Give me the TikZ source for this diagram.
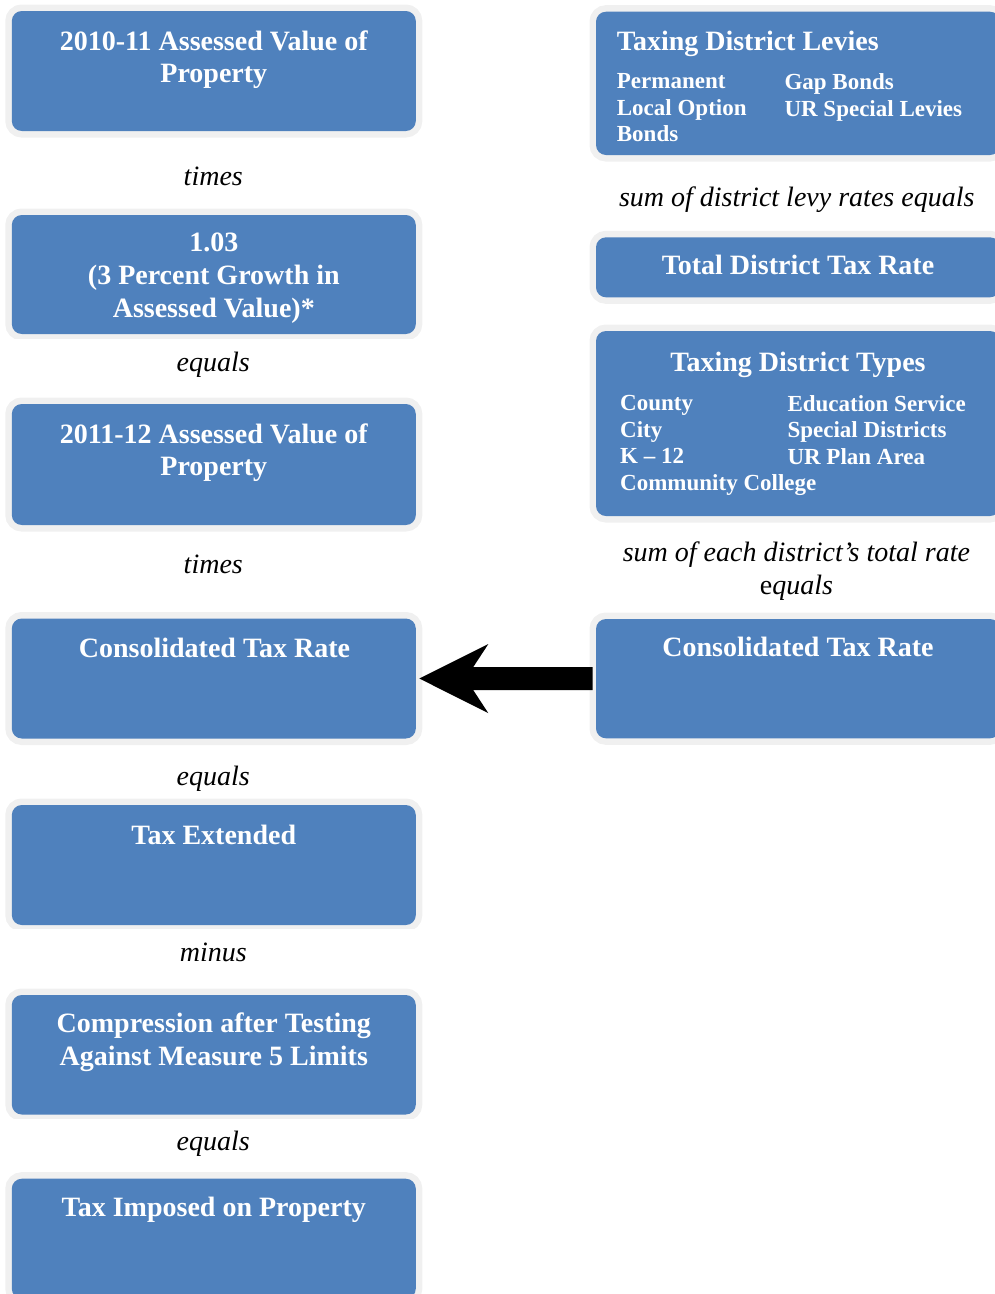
\documentclass[tikz,border=0pt]{standalone}
\usepackage{fontspec}
\setmainfont{Liberation Serif}
\usetikzlibrary{arrows.meta,calc}

\definecolor{panelblue}{RGB}{79,129,189}
\definecolor{rimgray}{RGB}{240,240,240}

\tikzset{
  panel/.style={rectangle, rounded corners=10pt, fill=panelblue,
    preaction={draw=rimgray, line width=13pt},
    inner sep=0pt, outer sep=0pt, minimum width=404pt},
  head/.style={text=white, font=\bfseries\fontsize{28}{32.8}\selectfont,
    align=center, inner sep=0pt, anchor=base},
  item/.style={text=white, font=\bfseries\fontsize{23}{26.5}\selectfont,
    align=left, inner sep=0pt, anchor=base west},
  op/.style={font=\itshape\fontsize{28}{32.3}\selectfont, align=center,
    inner sep=0pt, anchor=base},
  flow/.style={line width=23pt, shorten >=3.5pt, shorten <=3.3pt,
    -{Stealth[length=69pt, width=69pt, inset=22.6pt, line width=0pt]}}
}

\begin{document}
\begin{tikzpicture}[x=1pt, y=-1pt]
\useasboundingbox (0,0) rectangle (995,1294);
\clip (0,0) rectangle (995,1294);

% ---------- left column ----------
\node[panel, minimum height=120pt] (av10) at (213.8,71) {};
\begin{scope}
  \clip (0,0) rectangle (995,338);
  \node[panel, minimum height=119pt] (growth) at (213.8,274.5) {};
\end{scope}
\node[panel, minimum height=121pt] (av11) at (213.8,464.5) {};
\node[panel, minimum height=120pt] (ctrL) at (213.8,678.5) {};
\begin{scope}
  \clip (0,0) rectangle (995,928);
  \node[panel, minimum height=120pt] (ext) at (213.8,865) {};
\end{scope}
\begin{scope}
  \clip (0,0) rectangle (995,1118);
  \node[panel, minimum height=119.5pt] (comp) at (213.8,1054.75) {};
\end{scope}
\node[panel, minimum height=120pt] (imp) at (213.8,1238.7) {};

% multi-line texts are placed by the baseline of their last line
\node[head] (av10t) at (213.8,82.8) {2010-11 Assessed Value of\\Property};
\node[op] (op1) at (213.3,185) {times};
\node[head] (growtht) at (213.8,317) {1.03\\(3 Percent Growth in\\Assessed Value)*};
\node[op] (op2) at (213.3,371.7) {equals};
\node[head] (av11t) at (213.8,475.8) {2011-12 Assessed Value of\\Property};
\node[op] (op3) at (213.3,573.3) {times};
\node[head] (ctrLt) at (214.5,657.7) {Consolidated Tax Rate};
\node[op] (op4) at (213.3,785) {equals};
\node[head] (extt) at (213.8,844) {Tax Extended};
\node[op] (op5) at (213.3,961.7) {minus};
\node[head] (compt) at (213.8,1065.5) {Compression after Testing\\Against Measure 5 Limits};
\node[op] (op6) at (213.3,1150.7) {equals};
\node[head] (impt) at (213.8,1216.7) {Tax Imposed on Property};

% ---------- right column ----------
\node[panel, minimum height=143.3pt] (levy) at (798,83.35) {};
\node[panel, minimum height=60pt] (total) at (798,267.3) {};
\node[panel, minimum height=185pt] (types) at (798,423.5) {};
\node[panel, minimum height=119.3pt] (ctrR) at (798,678.65) {};

\node[head, anchor=base west] (levyt) at (616.7,50) {Taxing District Levies};
\node[item] (levya) at (616.7,141.8) {Permanent\\Local Option\\Bonds};
\node[item] (levyb) at (784.3,116) {Gap Bonds\\UR Special Levies};
\node[op] (op7) at (796.7,206.7) {sum of district levy rates equals};
\node[head] (totalt) at (798,274) {Total District Tax Rate};
\node[head] (typest) at (798,371.7) {Taxing District Types};
\node[item] (typesa) at (620,490) {County\\City\\K – 12\\Community College};
\node[item] (typesb) at (787.3,464) {Education Service\\Special Districts\\UR Plan Area};
\node[op] (op8) at (796.4,594) {sum of each district’s total rate\\{\upshape e}quals};
\node[head] (ctrRt) at (798,656.7) {Consolidated Tax Rate};

% ---------- connector ----------
\draw[flow] (ctrR.west) -- (ctrL.east);
\end{tikzpicture}
\end{document}
